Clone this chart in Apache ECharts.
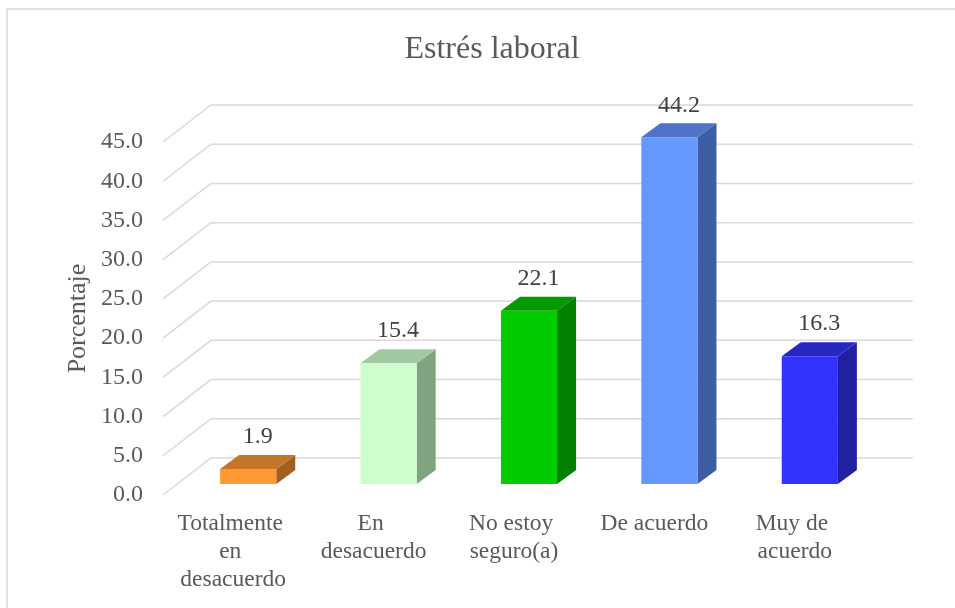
<!DOCTYPE html>
<html>
<head>
<meta charset="utf-8">
<script src="https://cdn.jsdelivr.net/npm/echarts@6/dist/echarts.min.js"></script>
<style>
    html, body { margin: 0; padding: 0; background: #fff; }
    #main { width: 955px; height: 608px; }
</style>
</head>
<body>
<div id="main"></div>
<script>
    // datos
    var categorias = ['Totalmente en desacuerdo', 'En desacuerdo', 'No estoy seguro(a)', 'De acuerdo', 'Muy de acuerdo'];
    var porcentajes = [1.9, 15.4, 22.1, 44.2, 16.3];
    var ticksY = [0, 5, 10, 15, 20, 25, 30, 35, 40, 45];

    // colores: frente, tapa, lado
    var colFrente = ['#FF9933', '#CCFFCC', '#00CC00', '#6699FF', '#3333FF'];
    var colTapa = ['#C4752A', '#A1C9A1', '#009A00', '#4D74C6', '#2727C4'];
    var colLado = ['#A35F1F', '#80A380', '#007F00', '#3D5EA2', '#2020A0'];

    var fuente = 'Liberation Serif, Times New Roman, serif';
    var myChart = echarts.init(document.getElementById('main'));

    // profundidad de la pared del fondo
    var DX = 48, DY = -37;

    function paredFondo(params, api) {
        var cs = params.coordSys;
        var y = api.coord([0, api.value(0)])[1];
        var x0 = cs.x;
        return {
            type: 'polyline',
            shape: { points: [[x0, y], [x0 + DX, y + DY], [x0 + DX + cs.width, y + DY]] },
            style: { stroke: '#D9D9D9', lineWidth: 1.5, fill: null },
            silent: true
        };
    }

    function barra3d(params, api) {
        var i = api.value(0);
        var v = api.value(1);
        var p0 = api.coord([i, 0]);
        var p1 = api.coord([i, v]);
        var banda = api.size([1, 0])[0];
        var w = banda * 0.4;
        var l = p0[0] - w / 2 + 15;
        var r = l + w;
        var yb = p0[1] - 11;
        var yt = p1[1] - 11;
        var dx = 19, dy = -14;
        var k = params.dataIndex;
        return {
            type: 'group',
            children: [{
                type: 'polygon',
                shape: { points: [[r, yt], [r + dx, yt + dy], [r + dx, yb + dy], [r, yb]] },
                style: { fill: colLado[k] }
            }, {
                type: 'polygon',
                shape: { points: [[l, yt], [r, yt], [r + dx, yt + dy], [l + dx, yt + dy]] },
                style: { fill: colTapa[k] }
            }, {
                type: 'rect',
                shape: { x: l, y: yt, width: w, height: yb - yt },
                style: { fill: colFrente[k] }
            }, {
                type: 'text',
                x: (l + r) / 2 + dx / 2,
                y: yt + dy - 6,
                style: {
                    text: v.toFixed(1),
                    fill: '#404040',
                    font: '24px ' + fuente,
                    align: 'center',
                    verticalAlign: 'bottom'
                }
            }]
        };
    }

    var barras = [];
    for (var i = 0; i < porcentajes.length; i++) {
        barras.push([i, porcentajes[i]]);
    }

    myChart.setOption({
        backgroundColor: '#fff',
        animation: false,
        title: {
            text: 'Estrés laboral',
            left: 487,
            top: 29,
            textAlign: 'center',
            textStyle: { fontFamily: fuente, fontSize: 32, fontWeight: 'normal', color: '#595959' }
        },
        graphic: [{
            type: 'rect',
            shape: { x: 7, y: 9, width: 1000, height: 700 },
            style: { fill: null, stroke: '#D9D9D9', lineWidth: 1.5 },
            silent: true
        }],
        grid: { left: 163, right: 90, top: 142, bottom: 113 },
        xAxis: {
            type: 'category',
            data: categorias,
            axisLine: { show: false },
            axisTick: { show: false },
            axisLabel: {
                margin: 15,
                interval: 0,
                width: 118,
                overflow: 'break',
                lineHeight: 28,
                fontFamily: fuente,
                fontSize: 23.5,
                color: '#595959'
            }
        },
        yAxis: {
            type: 'value',
            min: 0,
            max: 45,
            interval: 5,
            name: 'Porcentaje',
            nameLocation: 'middle',
            nameRotate: 90,
            nameGap: 72,
            nameMoveOverlap: false,
            nameTextStyle: { fontFamily: fuente, fontSize: 26, color: '#595959' },
            axisLine: { show: false },
            axisTick: { show: false },
            splitLine: { show: false },
            axisLabel: {
                margin: 20,
                fontFamily: fuente,
                fontSize: 24,
                color: '#595959',
                formatter: function (v) { return v.toFixed(1); }
            }
        },
        series: [{
            type: 'custom',
            renderItem: paredFondo,
            data: ticksY,
            encode: { y: 0 },
            z: 1,
            silent: true
        }, {
            type: 'custom',
            renderItem: barra3d,
            data: barras,
            encode: { x: 0, y: 1 },
            z: 2
        }]
    });
</script>
</body>
</html>
